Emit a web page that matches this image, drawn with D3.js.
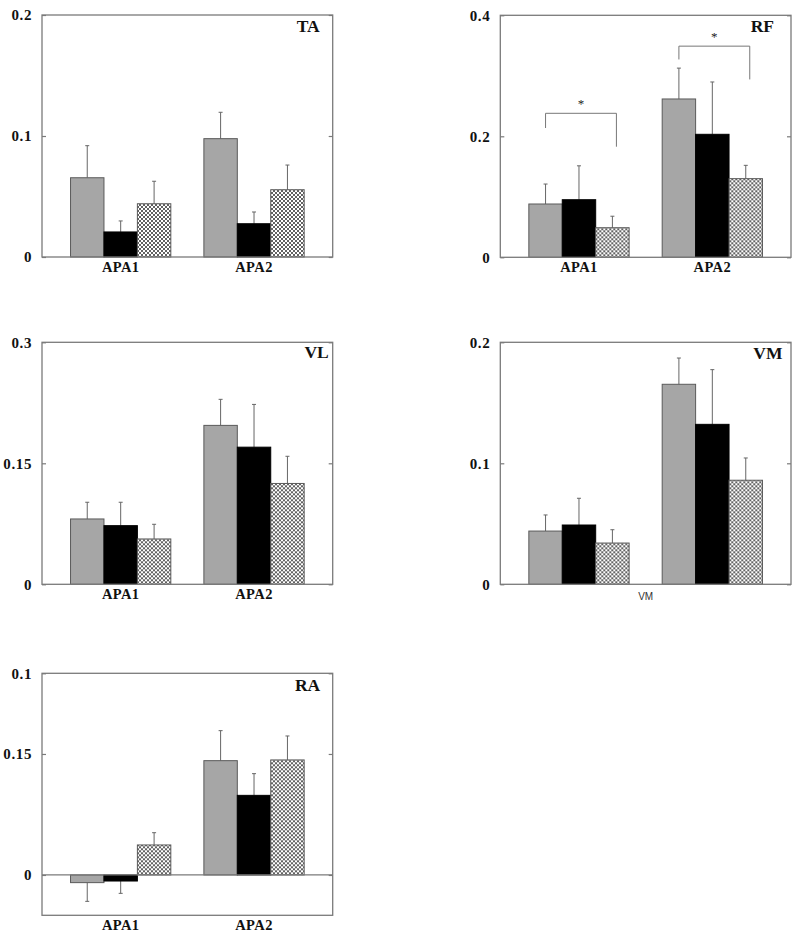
<!DOCTYPE html>
<html>
<head>
<meta charset="utf-8">
<script src="https://cdn.jsdelivr.net/npm/d3@7"></script>
<style>
  html, body { margin: 0; padding: 0; background: #fff; }
  svg { display: block; }
</style>
</head>
<body>
<svg id="chart" width="800" height="937"></svg>
<script>
// ---------- DATA ----------
const categories = ["APA1", "APA2"];
const series = ["grey", "black", "hatched"];

// means [category][series], error (upper/lower extent) [category][series]
const taMeans  = [[0.0655, 0.0207, 0.0440], [0.0978, 0.0275, 0.0556]];
const taErrors = [[0.0265, 0.0091, 0.0186], [0.0218, 0.0097, 0.0204]];

const rfMeans  = [[0.0881, 0.0952, 0.0489], [0.2617, 0.2033, 0.1300]];
const rfErrors = [[0.0330, 0.0560, 0.0190], [0.0510, 0.0865, 0.0220]];

const vlMeans  = [[0.0810, 0.0727, 0.0562], [0.1970, 0.1700, 0.1250]];
const vlErrors = [[0.0207, 0.0290, 0.0182], [0.0323, 0.0530, 0.0337]];

const vmMeans  = [[0.0440, 0.0490, 0.0341], [0.1653, 0.1322, 0.0860]];
const vmErrors = [[0.0133, 0.0221, 0.0110], [0.0217, 0.0452, 0.0184]];

const raMeans  = [[-0.0095, -0.0075, 0.0372], [0.1417, 0.0987, 0.1426]];
const raErrors = [[0.0232, 0.0153, 0.0152], [0.0372, 0.0269, 0.0297]];

// y domains, tick values and tick labels (as printed in the figure)
const taDomain = [0, 0.2], taTicks = [0, 0.1, 0.2],  taTickLabels = ["0", "0.1", "0.2"];
const rfDomain = [0, 0.4], rfTicks = [0, 0.2, 0.4],  rfTickLabels = ["0", "0.2", "0.4"];
const vlDomain = [0, 0.3], vlTicks = [0, 0.15, 0.3], vlTickLabels = ["0", "0.15", "0.3"];
const vmDomain = [0, 0.2], vmTicks = [0, 0.1, 0.2],  vmTickLabels = ["0", "0.1", "0.2"];
const raDomain = [-0.05, 0.25], raTicks = [0, 0.15, 0.25], raTickLabels = ["0", "0.15", "0.1"];

// significance brackets (RF): category, bracket level, left/right leg ends
const rfBrackets = [
  { cat: "APA1", level: 0.238, leftEnd: 0.2137, rightEnd: 0.1828 },
  { cat: "APA2", level: 0.349, leftEnd: 0.327,  rightEnd: 0.294 }
];

// ---------- LAYOUT ----------
const panelW = 290.7, panelH = 242;
const panels = [
  { title: "TA", means: taMeans, errors: taErrors, domain: taDomain, ticks: taTicks, tickLabels: taTickLabels, x: 42,    y: 15,    titleDx: 13,  titleY: 31.5, catLabels: true },
  { title: "RF", means: rfMeans, errors: rfErrors, domain: rfDomain, ticks: rfTicks, tickLabels: rfTickLabels, x: 500.3, y: 15.3,  titleDx: 17,  titleY: 31.5, catLabels: true, brackets: rfBrackets },
  { title: "VL", means: vlMeans, errors: vlErrors, domain: vlDomain, ticks: vlTicks, tickLabels: vlTickLabels, x: 42,    y: 342.3, titleDx: 4,   titleY: 358, catLabels: true },
  { title: "VM", means: vmMeans, errors: vmErrors, domain: vmDomain, ticks: vmTicks, tickLabels: vmTickLabels, x: 500.3, y: 342.3, titleDx: 8.5, titleY: 358.5, catLabels: false, xTitle: "VM" },
  { title: "RA", means: raMeans, errors: raErrors, domain: raDomain, ticks: raTicks, tickLabels: raTickLabels, x: 42,    y: 673.3, titleDx: 12.5, titleY: 690.5, catLabels: true }
];

const fills = { grey: "#a6a6a6", black: "#000000", hatched: "url(#hatch)" };
const frameColor = "#7a7a7a";
const serif = "'Liberation Serif', 'Times New Roman', serif";

const svg = d3.select("#chart");

// hatch pattern
const defs = svg.append("defs");
const pat = defs.append("pattern")
  .attr("id", "hatch").attr("patternUnits", "userSpaceOnUse")
  .attr("width", 4).attr("height", 4);
pat.append("rect").attr("width", 4).attr("height", 4).attr("fill", "#ffffff");
pat.append("path").attr("d", "M0,0L4,4M4,0L0,4M-1,3L1,5M3,-1L5,1M-1,1L1,-1M3,5L5,3")
  .attr("stroke", "#3a3a3a").attr("stroke-width", 0.8);

panels.forEach(p => {
  const g = svg.append("g").attr("transform", `translate(${p.x},${p.y})`);

  const x0 = d3.scaleBand().domain(categories).range([0, panelW])
    .paddingInner(0.248).paddingOuter(0.214);
  const x1 = d3.scaleBand().domain(series).range([0, x0.bandwidth()]).padding(0);
  const y = d3.scaleLinear().domain(p.domain).range([panelH, 0]);

  const rows = [];
  categories.forEach((c, ci) => series.forEach((s, si) => {
    rows.push({ cat: c, ser: s, mean: p.means[ci][si], err: p.errors[ci][si] });
  }));

  // error bars (drawn first so bars cover the lower part)
  const eb = g.append("g");
  rows.forEach(d => {
    const cx = x0(d.cat) + x1(d.ser) + x1.bandwidth() / 2;
    const sign = d.mean >= 0 ? 1 : -1;
    const tip = d.mean + sign * d.err;
    eb.append("line").attr("x1", cx).attr("x2", cx)
      .attr("y1", y(d.mean)).attr("y2", y(tip))
      .attr("stroke", "#666").attr("stroke-width", 1);
    eb.append("line").attr("x1", cx - 2).attr("x2", cx + 2)
      .attr("y1", y(tip)).attr("y2", y(tip))
      .attr("stroke", "#666").attr("stroke-width", 1);
  });

  // bars
  g.append("g").selectAll("rect").data(rows).join("rect")
    .attr("x", d => x0(d.cat) + x1(d.ser))
    .attr("width", x1.bandwidth())
    .attr("y", d => y(Math.max(0, d.mean)))
    .attr("height", d => Math.abs(y(d.mean) - y(0)))
    .attr("fill", d => fills[d.ser])
    .attr("stroke", d => d.ser === "black" ? "#000" : "#5a5a5a")
    .attr("stroke-width", 1);

  // zero line if domain includes negatives
  if (p.domain[0] < 0) {
    g.append("line").attr("x1", 0).attr("x2", panelW)
      .attr("y1", y(0)).attr("y2", y(0))
      .attr("stroke", frameColor).attr("stroke-width", 1.3);
  }

  // frame
  g.append("rect").attr("x", 0).attr("y", 0).attr("width", panelW).attr("height", panelH)
    .attr("fill", "none").attr("stroke", frameColor).attr("stroke-width", 1.3);

  // left axis
  const ax = g.append("g").call(
    d3.axisLeft(y).tickValues(p.ticks).tickSize(-4).tickPadding(10)
      .tickFormat((d, i) => p.tickLabels[i]));
  ax.select(".domain").remove();
  ax.selectAll(".tick line").attr("stroke", frameColor).attr("stroke-width", 1.2);
  ax.selectAll(".tick text").attr("fill", "#111")
    .style("font-family", serif).style("font-weight", "bold")
    .style("font-size", "15px").style("letter-spacing", "0.6px");

  // right axis (ticks only)
  const axr = g.append("g").attr("transform", `translate(${panelW},0)`).call(
    d3.axisRight(y).tickValues(p.ticks).tickSize(-4).tickFormat(""));
  axr.select(".domain").remove();
  axr.selectAll(".tick line").attr("stroke", frameColor).attr("stroke-width", 1.2);

  // category labels
  if (p.catLabels) {
    g.append("g").selectAll("text").data(categories).join("text")
      .attr("x", d => x0(d) + x0.bandwidth() / 2)
      .attr("y", panelH + 15)
      .attr("text-anchor", "middle")
      .style("font-family", serif).style("font-weight", "bold").style("font-size", "14.5px")
      .style("letter-spacing", "0.4px")
      .attr("fill", "#111")
      .text(d => d);
  }
  if (p.xTitle) {
    g.append("text").attr("x", panelW / 2).attr("y", panelH + 15.5)
      .attr("text-anchor", "middle")
      .style("font-family", "'Liberation Sans', Arial, sans-serif").style("font-size", "10px")
      .attr("fill", "#333").text(p.xTitle);
  }

  // panel title
  svg.append("text").attr("x", p.x + panelW - p.titleDx).attr("y", p.titleY)
    .attr("text-anchor", "end")
    .style("font-family", serif).style("font-weight", "bold").style("font-size", "17.5px")
    .attr("fill", "#111").text(p.title);

  // significance brackets
  if (p.brackets) {
    p.brackets.forEach(b => {
      const lx = x0(b.cat) + x1("grey") + x1.bandwidth() / 2;
      const rx = x0(b.cat) + x1("hatched") + x1.bandwidth() * 0.62;
      g.append("path")
        .attr("d", `M${lx},${y(b.leftEnd)}V${y(b.level)}H${rx}V${y(b.rightEnd)}`)
        .attr("fill", "none").attr("stroke", "#777").attr("stroke-width", 1);
      g.append("text").attr("x", (lx + rx) / 2).attr("y", y(b.level) - 5)
        .attr("text-anchor", "middle")
        .style("font-family", serif).style("font-size", "13px")
        .attr("fill", "#222").text("*");
    });
  }
});
</script>
</body>
</html>
